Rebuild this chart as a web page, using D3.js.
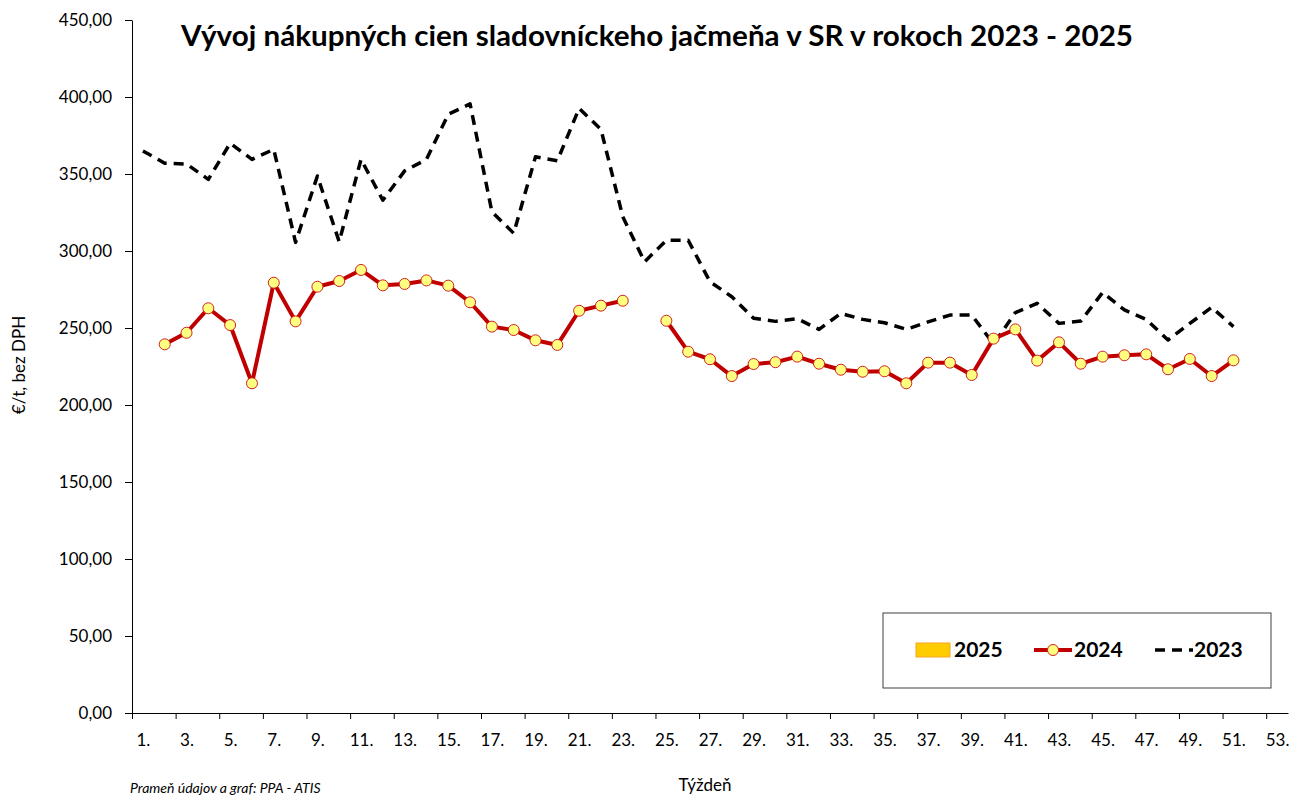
<!DOCTYPE html>
<html>
<head>
<meta charset="utf-8">
<script src="https://cdn.jsdelivr.net/npm/d3@7"></script>
<style>
  body { margin: 0; background: #fff; }
  text { font-family: Lato, "Open Sans", sans-serif; }
</style>
</head>
<body>
<div id="chart"></div>
<script>
// weekly purchase prices of malting barley, €/t without VAT
const weeks = d3.range(1, 54);
const yTicks = [0, 50, 100, 150, 200, 250, 300, 350, 400, 450];

// 2025 has no data yet, it only shows in the legend
const prices2025 = [];

const prices2024 = [
  null, 239.4, 246.9, 262.8, 251.9, 214.1, 279.4, 254.3, 276.8, 280.5,
  287.7, 277.7, 278.6, 280.9, 277.5, 266.7, 250.9, 248.7, 242.0, 239.0,
  261.2, 264.5, 267.7, null, 254.7, 234.6, 229.7, 218.8, 226.6, 227.8,
  231.4, 226.8, 222.9, 221.6, 221.9, 214.1, 227.5, 227.5, 219.5, 243.1,
  249.1, 228.8, 240.7, 226.8, 231.4, 232.3, 232.9, 223.2, 229.9, 218.8,
  229.0, null, null
];

const prices2023 = [
  365.0, 357.0, 356.5, 346.5, 370.0, 359.5, 366.0, 305.6, 348.7, 306.0,
  359.5, 333.0, 352.0, 359.5, 388.8, 395.5, 325.5, 311.5, 361.2, 358.6,
  392.6, 379.0, 322.3, 293.0, 307.0, 307.0, 280.0, 270.3, 256.3, 254.3,
  256.0, 249.1, 259.5, 255.6, 253.4, 249.1, 254.0, 258.4, 258.4, 239.6,
  260.0, 266.0, 253.0, 254.5, 273.0, 261.7, 255.6, 242.2, 253.0, 263.4,
  250.9, null, null
];

const width = 1293, height = 796;
const plot = { left: 132, right: 1288, top: 20, bottom: 713 };

const svg = d3.select("#chart").append("svg")
  .attr("width", width)
  .attr("height", height)
  .style("background", "#fff");

const x = d3.scaleLinear().domain([0.5, 53.5]).range([plot.left, plot.right]);
const y = d3.scaleLinear().domain([0, 450]).range([plot.bottom, plot.top]);

// title
svg.append("text")
  .attr("x", 181)
  .attr("y", 46)
  .attr("textLength", 952)
  .attr("lengthAdjust", "spacingAndGlyphs")
  .style("font-size", "28px")
  .style("font-weight", "bold")
  .text("Vývoj nákupných cien sladovníckeho jačmeňa v SR v rokoch 2023 - 2025");

// y axis
svg.append("g")
  .attr("transform", `translate(${plot.left},0)`)
  .call(d3.axisLeft(y).tickValues(yTicks).tickSize(7).tickSizeOuter(0)
    .tickFormat(d => d.toFixed(2).replace(".", ",")))
  .call(g => g.selectAll("text").style("font-size", "17px").attr("fill", "#000").attr("x", -20))
  .call(g => g.selectAll("line, path").attr("stroke", "#000"));

// x axis: ticks between categories, every second week
const xEdges = d3.range(0.5, 54, 2);
svg.append("g")
  .attr("transform", `translate(0,${plot.bottom})`)
  .call(d3.axisBottom(x).tickValues(xEdges).tickSize(6).tickSizeOuter(0).tickFormat(""))
  .call(g => g.selectAll("line, path").attr("stroke", "#000"));

svg.append("g")
  .attr("transform", `translate(0,${plot.bottom})`)
  .call(d3.axisBottom(x).tickValues(weeks.filter(w => w % 2 === 1)).tickSize(0)
    .tickFormat(w => w + "."))
  .call(g => g.select(".domain").remove())
  .call(g => g.selectAll("text").style("font-size", "17px").attr("fill", "#000").attr("dy", "1.75em"));

// axis titles
svg.append("text")
  .attr("transform", "translate(25,365) rotate(-90)")
  .attr("text-anchor", "middle")
  .style("font-size", "17px")
  .text("€/t, bez DPH");

svg.append("text")
  .attr("x", 705)
  .attr("y", 791)
  .attr("text-anchor", "middle")
  .style("font-size", "17px")
  .text("Týždeň");

svg.append("text")
  .attr("x", 130)
  .attr("y", 793)
  .style("font-size", "14px")
  .style("font-style", "italic")
  .text("Prameň údajov a graf: PPA - ATIS");

// lines
const line = d3.line()
  .defined(d => d.v != null)
  .x(d => x(d.w))
  .y(d => y(d.v));

const data2023 = weeks.map((w, i) => ({ w, v: prices2023[i] }));
const data2024 = weeks.map((w, i) => ({ w, v: prices2024[i] }));

svg.append("path")
  .datum(data2023)
  .attr("fill", "none")
  .attr("stroke", "#000")
  .attr("stroke-width", 3.5)
  .attr("stroke-dasharray", "10,7")
  .attr("stroke-linejoin", "round")
  .attr("d", line);

svg.append("path")
  .datum(data2024)
  .attr("fill", "none")
  .attr("stroke", "#C00000")
  .attr("stroke-width", 4)
  .attr("stroke-linejoin", "round")
  .attr("d", line);

svg.selectAll(".dot")
  .data(data2024.filter(d => d.v != null))
  .enter().append("circle")
    .attr("class", "dot")
    .attr("cx", d => x(d.w))
    .attr("cy", d => y(d.v))
    .attr("r", 5.5)
    .attr("fill", "#FFFF80")
    .attr("stroke", "#D02020")
    .attr("stroke-width", 1);

// legend
const legend = svg.append("g");
legend.append("rect")
  .attr("x", 883).attr("y", 613)
  .attr("width", 388).attr("height", 75)
  .attr("fill", "#fff")
  .attr("stroke", "#404040")
  .attr("stroke-width", 1);

legend.append("rect")
  .attr("x", 916).attr("y", 643)
  .attr("width", 34).attr("height", 14)
  .attr("fill", "#FFCC00")
  .attr("stroke", "#F5A623");

legend.append("line")
  .attr("x1", 1034).attr("x2", 1072).attr("y1", 650).attr("y2", 650)
  .attr("stroke", "#C00000").attr("stroke-width", 4);
legend.append("circle")
  .attr("cx", 1053).attr("cy", 650).attr("r", 5.5)
  .attr("fill", "#FFFF80").attr("stroke", "#D02020");

legend.append("line")
  .attr("x1", 1155).attr("x2", 1193).attr("y1", 650).attr("y2", 650)
  .attr("stroke", "#000").attr("stroke-width", 3.5)
  .attr("stroke-dasharray", "10,7");

const legendItems = [["2025", 954], ["2024", 1074], ["2023", 1194]];
legend.selectAll(".lt")
  .data(legendItems)
  .enter().append("text")
    .attr("class", "lt")
    .attr("x", d => d[1])
    .attr("y", 657)
    .style("font-size", "21px")
    .style("font-weight", "bold")
    .text(d => d[0]);
</script>
</body>
</html>
